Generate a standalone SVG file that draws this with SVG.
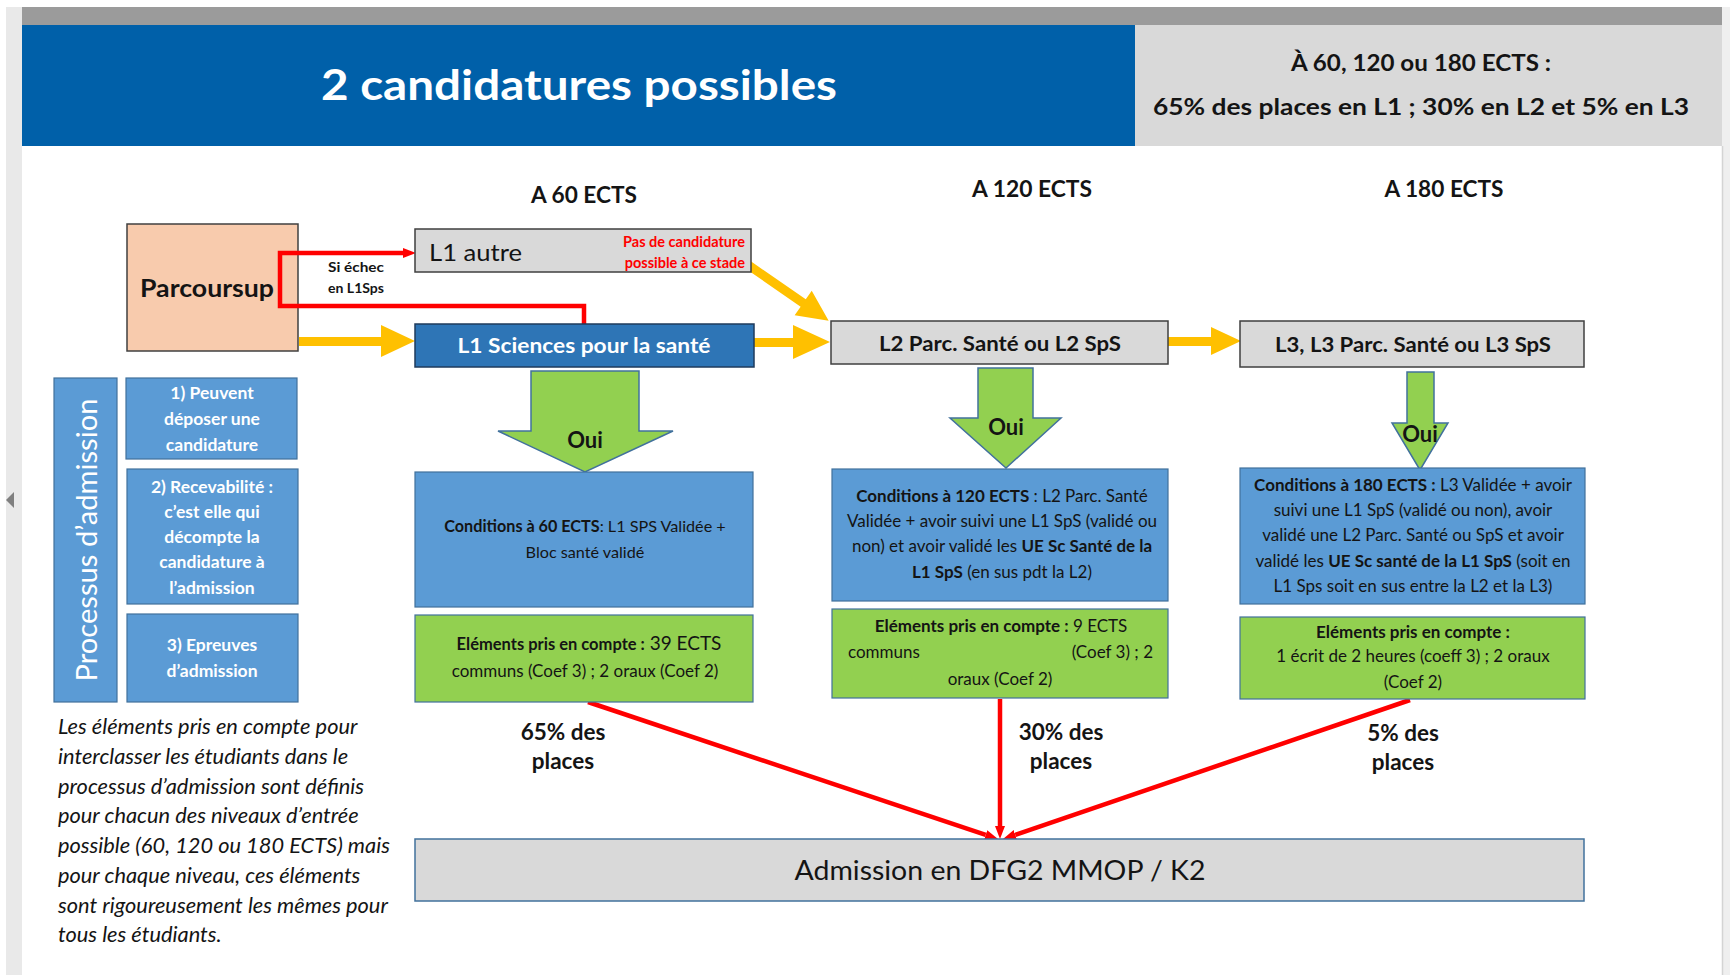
<svg xmlns="http://www.w3.org/2000/svg" width="1730" height="975" viewBox="0 0 1730 975">
<defs>
<style>
text{font-family:Lato,"Liberation Sans",sans-serif;fill:#141414}
.b{font-weight:bold}
.i{font-style:italic}
.w{fill:#ffffff}
.c{text-anchor:middle}
.gbox{fill:#D9D9D9;stroke:#3F3F3F;stroke-width:1.5}
.cond{fill:#5B9BD5;stroke:#41719C;stroke-width:1.2}
.elem{fill:#92D050;stroke:#41719C;stroke-width:1.2}
.step{fill:#5B9BD5;stroke:#41719C;stroke-width:1.2}
.garrow{fill:#92D050;stroke:#41719C;stroke-width:1.5}
.yarrow{fill:#FFC000}
.red{stroke:#FF0000;fill:none;stroke-width:4.5}
.t{font-size:17px}
.st{font-size:17.5px;font-weight:bold;fill:#ffffff;text-anchor:middle}
.nt{font-size:21.8px;font-style:italic}
.q{font-size:22.5px;font-weight:bold;text-anchor:middle}
.oui{font-size:22px;font-weight:bold;text-anchor:middle}
</style>
<marker id="rh" viewBox="0 0 13 10" refX="0" refY="5" markerWidth="13" markerHeight="10" markerUnits="userSpaceOnUse" orient="auto">
<path d="M0,0 L13,5 L0,10 z" fill="#FF0000"/>
</marker>
</defs>

<g id="frame">
<rect x="0" y="0" width="1730" height="975" fill="#ffffff"/>
<rect x="6" y="7" width="16" height="968" fill="#E9E9E9"/>
<polygon points="14,492 6,500 14,508" fill="#7F7F7F"/>
<rect x="1722" y="7" width="8" height="968" fill="#EFEFEF"/>
<line x1="1722.5" y1="146" x2="1722.5" y2="975" stroke="#D4D4D4" stroke-width="1.5"/>
<rect x="22" y="7" width="1700" height="18" fill="#9B9B9B"/>
</g>

<g id="header-title">
<rect x="22" y="25" width="1113" height="121" fill="#0060A9"/>
<text x="579" y="100" class="b w c" font-size="42" textLength="516" lengthAdjust="spacingAndGlyphs">2 candidatures possibles</text>
</g>
<g id="header-quota">
<rect x="1135" y="25" width="587" height="121" fill="#D9D9D9"/>
<text x="1421" y="71" class="b c" font-size="22" textLength="260" lengthAdjust="spacingAndGlyphs">À 60, 120 ou 180 ECTS :</text>
<text x="1421" y="115" class="b c" font-size="22" textLength="536" lengthAdjust="spacingAndGlyphs">65% des places en L1 ; 30% en L2 et 5% en L3</text>
</g>

<g id="col-headers">
<text x="584" y="203" class="b c" font-size="22" textLength="106" lengthAdjust="spacingAndGlyphs">A 60 ECTS</text>
<text x="1032" y="197" class="b c" font-size="22" textLength="120" lengthAdjust="spacingAndGlyphs">A 120 ECTS</text>
<text x="1444" y="197" class="b c" font-size="22" textLength="119" lengthAdjust="spacingAndGlyphs">A 180 ECTS</text>
</g>

<g id="parcoursup">
<rect x="127" y="224" width="171" height="127" fill="#F8CBAD" stroke="#404040" stroke-width="1.5"/>
<text x="207" y="297" class="b c" font-size="24" textLength="134" lengthAdjust="spacingAndGlyphs">Parcoursup</text>
</g>

<g id="connectors">
<polygon class="yarrow" points="299,337 381,337 381,325 415,341 381,357 381,346 299,346"/>
<polygon class="yarrow" points="754,338 793,338 793,325 830,342 793,359 793,347 754,347"/>
<polygon class="yarrow" points="1168,337 1211,337 1211,327 1241,341 1211,355 1211,346 1168,346"/>
<polygon class="yarrow" transform="translate(744,262) rotate(34.7)" points="0,-4.5 72,-4.5 72,-15 103,0 72,15 72,4.5 0,4.5"/>
<path class="red" d="M584,324 V306 H280 V253 H403" marker-end="url(#rh)"/>
<line class="red" x1="588" y1="702" x2="985.7" y2="834.9" marker-end="url(#rh)"/>
<line class="red" x1="1000" y1="699" x2="1000" y2="826" stroke-width="3.5" marker-end="url(#rh)"/>
<line class="red" x1="1410" y1="700" x2="1015.3" y2="834.8" marker-end="url(#rh)"/>
</g>

<g id="label-echec">
<text x="328" y="272" class="b" font-size="13" textLength="56" lengthAdjust="spacingAndGlyphs">Si échec</text>
<text x="328" y="293" class="b" font-size="13" textLength="56" lengthAdjust="spacingAndGlyphs">en L1Sps</text>
</g>

<g id="l1-autre">
<rect x="415" y="229" width="336" height="43" class="gbox"/>
<text x="429" y="261" font-size="24" textLength="93" lengthAdjust="spacingAndGlyphs">L1 autre</text>
<text x="745" y="247" class="b" font-size="14.5" style="fill:#FF0000;text-anchor:end">Pas de candidature</text>
<text x="745" y="268" class="b" font-size="14.5" style="fill:#FF0000;text-anchor:end">possible à ce stade</text>
</g>

<g id="l1-sps">
<rect x="415" y="324" width="339" height="43" fill="#2E75B6" stroke="#1F3B5C" stroke-width="1.5"/>
<text x="584" y="353" class="b w c" font-size="21" textLength="253" lengthAdjust="spacingAndGlyphs">L1 Sciences pour la santé</text>
</g>

<g id="l2">
<rect x="831" y="321" width="337" height="43" class="gbox"/>
<text x="1000" y="351" class="b c" font-size="20" textLength="242" lengthAdjust="spacingAndGlyphs">L2 Parc. Santé ou L2 SpS</text>
</g>

<g id="l3">
<rect x="1240" y="321" width="344" height="46" class="gbox"/>
<text x="1413" y="352" class="b c" font-size="20" textLength="276" lengthAdjust="spacingAndGlyphs">L3, L3 Parc. Santé ou L3 SpS</text>
</g>

<g id="oui-60">
<polygon class="garrow" points="531,371 639,371 639,431 673,431 585,472 498,431 531,431"/>
<text x="585" y="448" class="oui">Oui</text>
</g>
<g id="oui-120">
<polygon class="garrow" points="978,368 1033,368 1033,418 1061,418 1006,468 950,418 978,418"/>
<text x="1006" y="435" class="oui">Oui</text>
</g>
<g id="oui-180">
<polygon class="garrow" points="1407,372 1434,372 1434,423 1448,423 1420,470 1392,423 1407,423"/>
<text x="1420" y="442" class="oui">Oui</text>
</g>

<g id="cond-60">
<rect x="415" y="472" width="338" height="135" class="cond"/>
<text x="585" y="532" class="c" font-size="16.2"><tspan class="b">Conditions à 60 ECTS</tspan>: L1 SPS Validée +</text>
<text x="585" y="558" class="c" font-size="16.2">Bloc santé validé</text>
</g>
<g id="elem-60">
<rect x="415" y="615" width="338" height="87" class="elem"/>
<text x="589" y="650" class="c"><tspan class="b" font-size="16.5">Eléments pris en compte :</tspan><tspan font-size="19"> 39 ECTS</tspan></text>
<text x="585" y="677" class="c t">communs (Coef 3) ; 2 oraux (Coef 2)</text>
</g>

<g id="cond-120">
<rect x="832" y="469" width="336" height="132" class="cond"/>
<text x="1002" y="502" class="c t"><tspan class="b">Conditions à 120 ECTS</tspan> : L2 Parc. Santé</text>
<text x="1002" y="527" class="c t">Validée + avoir suivi une L1 SpS (validé ou</text>
<text x="1002" y="552" class="c t">non) et avoir validé les <tspan class="b">UE Sc Santé de la</tspan></text>
<text x="1002" y="578" class="c t"><tspan class="b">L1 SpS</tspan> (en sus pdt la L2)</text>
</g>
<g id="elem-120">
<rect x="832" y="609" width="336" height="89" class="elem"/>
<text x="1001" y="632" class="c t"><tspan class="b">Eléments pris en compte :</tspan> 9 ECTS</text>
<text x="848" y="658" class="t">communs</text>
<text x="1153" y="658" class="t" style="text-anchor:end">(Coef 3) ; 2</text>
<text x="1000" y="685" class="c t">oraux (Coef 2)</text>
</g>

<g id="cond-180">
<rect x="1240" y="468" width="345" height="136" class="cond"/>
<text x="1413" y="491" class="c t"><tspan class="b">Conditions  à 180 ECTS :</tspan> L3 Validée +  avoir</text>
<text x="1413" y="516" class="c t">suivi une L1 SpS (validé ou non), avoir</text>
<text x="1413" y="541" class="c t">validé une L2 Parc. Santé ou SpS et avoir</text>
<text x="1413" y="567" class="c t">validé les <tspan class="b">UE Sc santé de la L1 SpS</tspan> (soit en</text>
<text x="1413" y="592" class="c t">L1 Sps soit en sus entre la L2 et la L3)</text>
</g>
<g id="elem-180">
<rect x="1240" y="617" width="345" height="82" class="elem"/>
<text x="1413" y="638" class="c b t">Eléments pris en compte :</text>
<text x="1413" y="662" class="c t">1 écrit de 2 heures (coeff 3) ; 2 oraux</text>
<text x="1413" y="688" class="c t">(Coef 2)</text>
</g>

<g id="quota-labels">
<text x="563" y="740" class="q">65% des</text>
<text x="563" y="769" class="q">places</text>
<text x="1061" y="740" class="q">30% des</text>
<text x="1061" y="769" class="q">places</text>
<text x="1403" y="741" class="q">5% des</text>
<text x="1403" y="770" class="q">places</text>
</g>

<g id="admission">
<rect x="415" y="839" width="1169" height="62" fill="#D9D9D9" stroke="#41719C" stroke-width="1.5"/>
<text x="1000" y="880" class="c" font-size="27" textLength="411" lengthAdjust="spacingAndGlyphs">Admission en DFG2 MMOP / K2</text>
</g>

<g id="processus">
<rect x="54" y="378" width="63" height="324" class="step"/>
<text transform="translate(97,540) rotate(-90)" class="c w" font-size="28" textLength="283" lengthAdjust="spacingAndGlyphs">Processus d’admission</text>
</g>
<g id="step-1">
<rect x="126" y="378" width="171" height="81" class="step"/>
<text x="212" y="399" class="st">1) Peuvent</text>
<text x="212" y="425" class="st">déposer une</text>
<text x="212" y="451" class="st">candidature</text>
</g>
<g id="step-2">
<rect x="127" y="469" width="171" height="135" class="step"/>
<text x="212" y="493" class="st">2) Recevabilité :</text>
<text x="212" y="518" class="st">c’est elle qui</text>
<text x="212" y="543" class="st">décompte la</text>
<text x="212" y="568" class="st">candidature à</text>
<text x="212" y="594" class="st">l’admission</text>
</g>
<g id="step-3">
<rect x="127" y="614" width="171" height="88" class="step"/>
<text x="212" y="651" class="st">3) Epreuves</text>
<text x="212" y="677" class="st">d’admission</text>
</g>

<g id="note">
<text x="58" y="734" class="nt">Les éléments pris en compte pour</text>
<text x="58" y="764" class="nt">interclasser les étudiants dans le</text>
<text x="58" y="794" class="nt">processus d’admission sont définis</text>
<text x="58" y="823" class="nt">pour chacun des niveaux d’entrée</text>
<text x="58" y="853" class="nt">possible (60, 120 ou 180 ECTS) mais</text>
<text x="58" y="883" class="nt">pour chaque niveau, ces éléments</text>
<text x="58" y="913" class="nt">sont rigoureusement les mêmes pour</text>
<text x="58" y="942" class="nt">tous les étudiants.</text>
</g>
</svg>
